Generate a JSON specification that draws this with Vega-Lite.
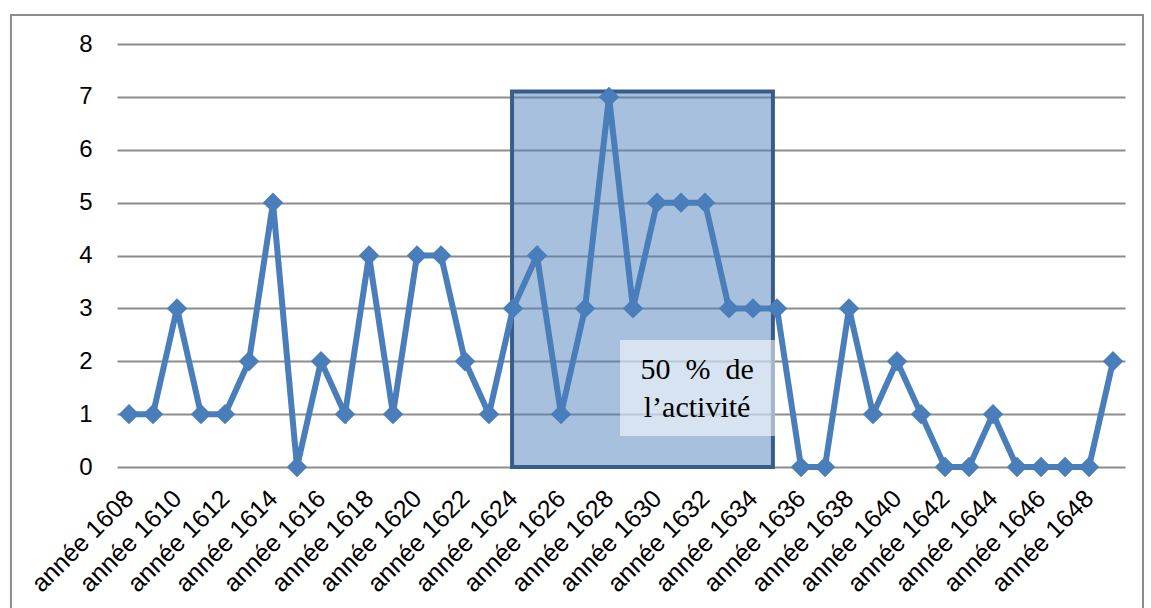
{
  "$schema": "https://vega.github.io/schema/vega-lite/v6.json",
  "width": 1008,
  "height": 423,
  "autosize": "none",
  "padding": {"left": 117, "top": 44, "right": 26, "bottom": 141},
  "background": "white",
  "config": {"view": {"stroke": null}, "font": "Liberation Sans"},
  "data": {"values": [
    {"annee": 1608, "n": 1}, {"annee": 1609, "n": 1}, {"annee": 1610, "n": 3}, {"annee": 1611, "n": 1},
    {"annee": 1612, "n": 1}, {"annee": 1613, "n": 2}, {"annee": 1614, "n": 5}, {"annee": 1615, "n": 0},
    {"annee": 1616, "n": 2}, {"annee": 1617, "n": 1}, {"annee": 1618, "n": 4}, {"annee": 1619, "n": 1},
    {"annee": 1620, "n": 4}, {"annee": 1621, "n": 4}, {"annee": 1622, "n": 2}, {"annee": 1623, "n": 1},
    {"annee": 1624, "n": 3}, {"annee": 1625, "n": 4}, {"annee": 1626, "n": 1}, {"annee": 1627, "n": 3},
    {"annee": 1628, "n": 7}, {"annee": 1629, "n": 3}, {"annee": 1630, "n": 5}, {"annee": 1631, "n": 5},
    {"annee": 1632, "n": 5}, {"annee": 1633, "n": 3}, {"annee": 1634, "n": 3}, {"annee": 1635, "n": 3},
    {"annee": 1636, "n": 0}, {"annee": 1637, "n": 0}, {"annee": 1638, "n": 3}, {"annee": 1639, "n": 1},
    {"annee": 1640, "n": 2}, {"annee": 1641, "n": 1}, {"annee": 1642, "n": 0}, {"annee": 1643, "n": 0},
    {"annee": 1644, "n": 1}, {"annee": 1645, "n": 0}, {"annee": 1646, "n": 0}, {"annee": 1647, "n": 0},
    {"annee": 1648, "n": 0}, {"annee": 1649, "n": 2}
  ]},
  "layer": [
    {
      "data": {"values": [{}]},
      "mark": {"type": "rect", "fill": null, "stroke": "#8C8C8C", "strokeWidth": 2, "clip": false},
      "encoding": {
        "x": {"datum": 1603.08, "type": "quantitative", "scale": {"domain": [1607.5, 1649.5], "nice": false, "zero": false}, "axis": null},
        "x2": {"datum": 1650.25},
        "y": {"datum": 8.548, "type": "quantitative", "scale": {"domain": [0, 8], "nice": false}, "axis": {"title": null, "values": [0,1,2,3,4,5,6,7,8], "grid": true, "gridColor": "#8C8C8C", "gridWidth": 2, "domain": false, "ticks": false, "tickSize": 0, "labelFontSize": 24, "labelPadding": 25, "labelColor": "#000000"}},
        "y2": {"datum": -3}
      }
    },
    {
      "data": {"values": [{}]},
      "mark": {"type": "rect", "fill": "#4F81BD", "fillOpacity": 0.5, "stroke": "#385D8A", "strokeWidth": 4},
      "encoding": {
        "x": {"datum": 1623.96, "type": "quantitative", "scale": {"domain": [1607.5, 1649.5], "nice": false, "zero": false}, "axis": null},
        "x2": {"datum": 1634.83},
        "y": {"datum": 7.1, "type": "quantitative"},
        "y2": {"datum": 0}
      }
    },
    {
      "mark": {"type": "line", "color": "#4A7EBB", "strokeWidth": 6, "point": {"shape": "diamond", "size": 420, "filled": true, "color": "#4A7EBB", "opacity": 1}},
      "encoding": {
        "x": {"field": "annee", "type": "ordinal", "sort": "ascending",
          "axis": {"title": null, "labelAngle": -45, "labelAlign": "right", "labelBaseline": "middle", "labelExpr": "datum.value % 2 == 0 ? 'année ' + datum.value : ''", "domain": false, "ticks": false, "tickSize": 0, "labelFontSize": 25, "labelPadding": 27, "labelColor": "#000000", "grid": false}},
        "y": {"field": "n", "type": "quantitative"}
      }
    },
    {
      "data": {"values": [{}]},
      "mark": {"type": "rect", "fill": "#FFFFFF", "fillOpacity": 0.55},
      "encoding": {
        "x": {"datum": 1628.46, "type": "quantitative", "scale": {"domain": [1607.5, 1649.5], "nice": false, "zero": false}, "axis": null},
        "x2": {"datum": 1634.92},
        "y": {"datum": 2.40, "type": "quantitative"},
        "y2": {"datum": 0.586}
      }
    },
    {
      "data": {"values": [{}]},
      "mark": {"type": "text", "font": "Liberation Serif", "fontSize": 30, "align": "center", "baseline": "alphabetic", "lineBreak": "\n", "lineHeight": 38, "color": "#000000", "text": "50\u2002%\u2002de\nl\u2019activité"},
      "encoding": {
        "x": {"datum": 1631.67, "type": "quantitative", "scale": {"domain": [1607.5, 1649.5], "nice": false, "zero": false}, "axis": null},
        "y": {"datum": 1.66, "type": "quantitative"}
      }
    }
  ],
  "resolve": {"scale": {"x": "independent"}}
}
